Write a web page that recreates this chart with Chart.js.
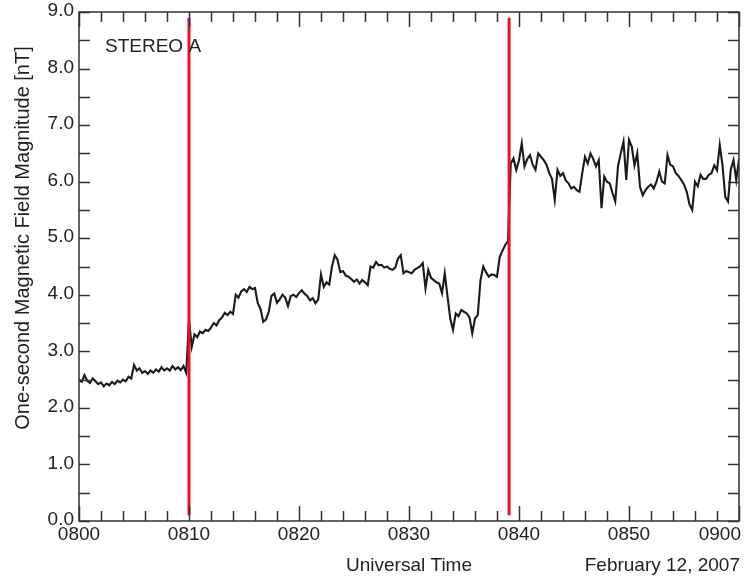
<!DOCTYPE html>
<html>
<head>
<meta charset="utf-8">
<script src="https://cdn.jsdelivr.net/npm/chart.js@4"></script>
<style>
  html, body { margin: 0; padding: 0; background: #fff; }
  #wrap { width: 750px; height: 579px; }
</style>
</head>
<body>
<div id="wrap"><canvas id="myChart" width="750" height="579"></canvas></div>
<script>
// minutes after 0800 UT, one value every 15 s
const sampleStep = 0.25;
const fieldNT = [
  2.50, 2.46, 2.58, 2.48,  2.44, 2.52, 2.47, 2.42,  2.45, 2.38, 2.43, 2.40,
  2.46, 2.42, 2.48, 2.45,  2.50, 2.47, 2.55, 2.52,  2.76, 2.66, 2.70, 2.62,
  2.65, 2.60, 2.66, 2.62,  2.68, 2.64, 2.72, 2.66,  2.70, 2.66, 2.74, 2.68,
  2.72, 2.67, 2.74, 2.62,
  3.55, 3.08, 3.30, 3.25,  3.35, 3.32, 3.38, 3.36,  3.42, 3.50, 3.46, 3.55,
  3.60, 3.68, 3.64, 3.70,  3.66, 4.00, 3.95, 4.06,  4.10, 4.05, 4.14, 4.10,
  4.12, 3.85, 3.75, 3.52,  3.56, 3.70, 3.98, 4.02,  3.86, 3.92, 4.00, 3.95,
  3.80, 3.98, 4.00, 3.96,
  4.03, 4.08, 4.02, 3.98,  3.90, 3.94, 3.85, 3.92,  4.36, 4.14, 4.22, 4.18,
  4.50, 4.70, 4.62, 4.40,  4.42, 4.34, 4.32, 4.28,  4.23, 4.27, 4.20, 4.26,
  4.22, 4.17, 4.50, 4.48,  4.58, 4.52, 4.53, 4.48,  4.50, 4.46, 4.44, 4.48,
  4.64, 4.70, 4.38, 4.42,
  4.40, 4.38, 4.44, 4.47,  4.50, 4.56, 4.11, 4.44,  4.30, 4.26, 4.22, 4.20,
  4.03, 4.38, 3.97, 3.58,  3.38, 3.67, 3.62, 3.73,  3.70, 3.67, 3.60, 3.32,
  3.58, 3.64, 4.26, 4.50,  4.40, 4.32, 4.36, 4.35,  4.32, 4.67, 4.78, 4.88,
  4.95, 6.32, 6.41, 6.21,
  6.38, 6.68, 6.27, 6.40,  6.47, 6.30, 6.21, 6.50,  6.44, 6.38, 6.30, 6.15,
  6.05, 5.68, 6.21, 6.10,  6.15, 6.02, 5.97, 5.88,  5.91, 5.85, 5.82, 6.15,
  6.44, 6.32, 6.50, 6.40,  6.27, 6.38, 5.53, 6.09,  6.00, 5.97, 5.80, 5.65,
  6.27, 6.50, 6.71, 6.03,
  6.74, 6.62, 6.29, 6.50,  5.91, 5.76, 5.85, 5.91,  5.95, 5.88, 6.00, 6.18,
  6.00, 5.97, 6.47, 6.30,  6.27, 6.15, 6.10, 6.03,  5.95, 5.82, 5.60, 5.50,
  6.00, 5.92, 6.12, 6.05,  6.05, 6.12, 6.15, 6.29,  6.20, 6.65, 6.29, 5.73,
  5.65, 6.21, 6.38, 6.03,
  6.40
];

// red marker lines (minutes after 0800) and their vertical extent
const eventTimes = [10, 39.1];
const eventSpan = [0.1, 8.9];

const xTickValues = [0, 10, 20, 30, 40, 50, 60];
const xTickLabels = ['0800', '0810', '0820', '0830', '0840', '0850', '0900'];
const yTickValues = [0, 1, 2, 3, 4, 5, 6, 7, 8, 9];
const yTickLabels = ['0.0', '1.0', '2.0', '3.0', '4.0', '5.0', '6.0', '7.0', '8.0', '9.0'];

const FONT = '19px "Liberation Sans", Arial, sans-serif';
const INK = '#333';

let points = fieldNT.map((v, i) => ({x: i * sampleStep, y: v}));

let datasets = [{
  data: points,
  borderColor: '#1a1a1a',
  borderWidth: 2.1,
  pointRadius: 0,
  tension: 0,
  order: 2
}];
eventTimes.forEach(function(t){
  datasets.push({
    data: [{x: t, y: eventSpan[0]}, {x: t, y: eventSpan[1]}],
    borderColor: '#e8141b',
    borderWidth: 3,
    pointRadius: 0,
    order: 1
  });
});

// frame, inward ticks, labels and titles
const decor = {
  id: 'decor',
  afterDatasetsDraw(chart) {
    const c = chart.ctx, a = chart.chartArea;
    const xs = chart.scales.x, ys = chart.scales.y;
    c.save();
    c.strokeStyle = INK;
    c.lineWidth = 1.5;
    c.strokeRect(a.left, a.top, a.right - a.left, a.bottom - a.top);

    // x ticks every 2 min, longer every 10
    c.beginPath();
    for (let m = 0; m <= 60; m += 2) {
      let px = Math.round(xs.getPixelForValue(m)) + 0.5;
      let len = (m % 10 === 0) ? 15 : 10;
      c.moveTo(px, a.bottom); c.lineTo(px, a.bottom - len);
      c.moveTo(px, a.top); c.lineTo(px, a.top + len);
    }
    // y ticks every 0.5
    for (let v = 0; v <= 9; v += 0.5) {
      let py = Math.round(ys.getPixelForValue(v)) + 0.5;
      c.moveTo(a.left, py); c.lineTo(a.left + 11, py);
      c.moveTo(a.right, py); c.lineTo(a.right - 11, py);
    }
    c.stroke();

    c.fillStyle = '#222';
    c.font = FONT;
    c.textBaseline = 'middle';

    // y tick labels
    c.textAlign = 'right';
    yTickValues.forEach(function(v, i){
      c.fillText(yTickLabels[i], a.left - 5, ys.getPixelForValue(v) - 1);
    });

    // x tick labels (last one kept inside the canvas)
    c.textAlign = 'center';
    xTickValues.forEach(function(v, i){
      let px = xs.getPixelForValue(v);
      let w = c.measureText(xTickLabels[i]).width;
      px = Math.min(px, chart.width - 9 - w / 2);
      c.fillText(xTickLabels[i], px, a.bottom + 14);
    });

    // axis titles
    c.fillText('Universal Time', 409, 566);
    c.textAlign = 'right';
    c.fillText('February 12, 2007', 740, 566);

    c.save();
    c.translate(23, 238);
    c.rotate(-Math.PI / 2);
    c.textAlign = 'center';
    c.font = '20px "Liberation Sans", Arial, sans-serif';
    c.fillText('One-second Magnetic Field Magnitude [nT]', 0, 0);
    c.restore();

    c.textAlign = 'left';
    c.fillStyle = '#222';
    c.fillText('STEREO A', 105, 47);
    c.restore();
  }
};

const chart = new Chart(document.getElementById('myChart'), {
  type: 'line',
  data: { datasets: datasets },
  options: {
    responsive: false,
    animation: false,
    layout: { padding: { left: 79, right: 11, top: 12, bottom: 58 } },
    plugins: { legend: { display: false }, tooltip: { enabled: false } },
    scales: {
      x: { type: 'linear', min: 0, max: 60, display: false },
      y: { type: 'linear', min: 0, max: 9, display: false }
    }
  },
  plugins: [decor]
});
</script>
</body>
</html>
